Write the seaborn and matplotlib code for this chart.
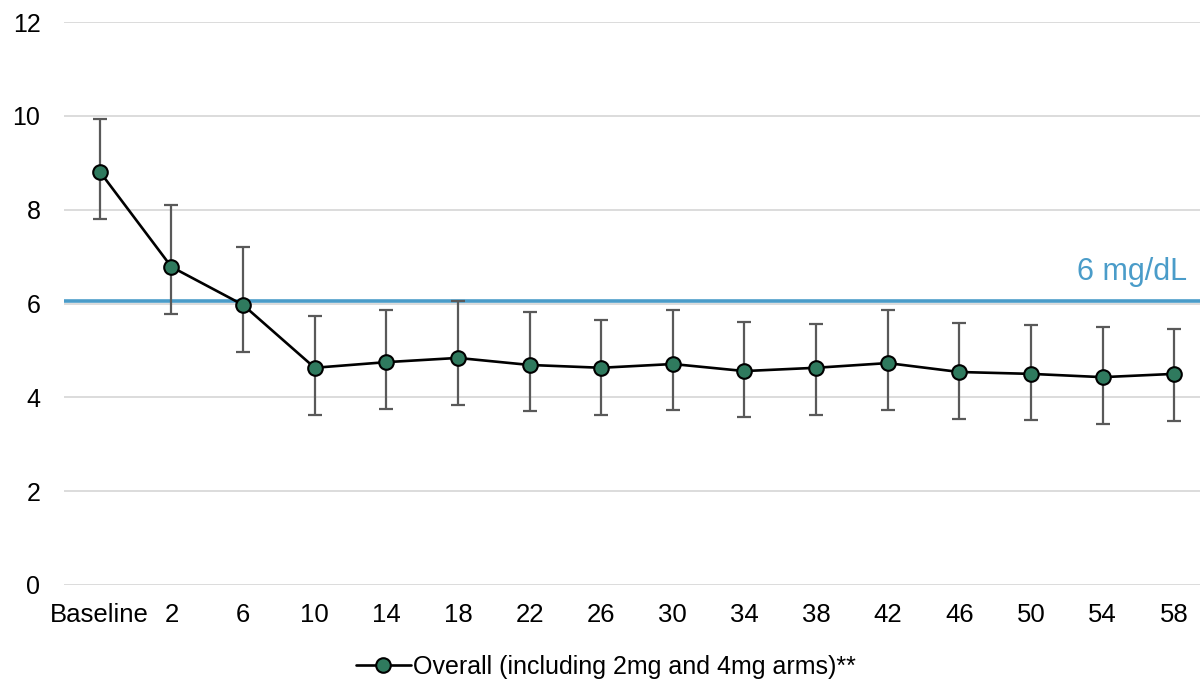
import numpy as np
import pandas as pd
import matplotlib
matplotlib.use("Agg")
import matplotlib.pyplot as plt
import seaborn as sns

categories = ["Baseline", "2", "6", "10", "14", "18", "22", "26", "30", "34",
              "38", "42", "46", "50", "54", "58"]
mean_vals = [8.81, 6.78, 5.97, 4.63, 4.75, 4.84, 4.69, 4.63, 4.71, 4.56,
             4.63, 4.73, 4.54, 4.50, 4.43, 4.50]
upper_vals = [9.94, 8.10, 7.21, 5.74, 5.86, 6.06, 5.82, 5.65, 5.86, 5.61,
              5.57, 5.86, 5.59, 5.54, 5.50, 5.46]
lower_vals = [7.80, 5.78, 4.97, 3.62, 3.75, 3.84, 3.71, 3.62, 3.73, 3.58,
              3.62, 3.73, 3.54, 3.52, 3.43, 3.50]
threshold = 6.05
threshold_label = "6 mg/dL"
series_label = "Overall (including 2mg and 4mg arms)**"
y_ticks = [0, 2, 4, 6, 8, 10, 12]

sns.set_theme(style="white")
plt.rcParams["font.family"] = ["Liberation Sans", "DejaVu Sans"]
plt.rcParams["text.color"] = "black"

df = pd.DataFrame({"week": categories, "mean": mean_vals})

fig = plt.figure(figsize=(12, 6.85), dpi=100)
ax = fig.add_axes([64 / 1200, 100 / 685, 1146 / 1200, 563 / 685])

for y in y_ticks:
    ax.axhline(y, color="#d9d9d9", lw=1.3, zorder=0)

ax.axhline(threshold, color="#4a9cc9", lw=2.6, zorder=1)

x = np.arange(len(categories))
mean = np.array(mean_vals)
yerr = np.vstack([mean - np.array(lower_vals), np.array(upper_vals) - mean])
ax.errorbar(x, mean, yerr=yerr, fmt="none", ecolor="#595959", elinewidth=1.6,
            capsize=4.8, capthick=1.6, zorder=2)

sns.lineplot(data=df, x="week", y="mean", sort=False, ax=ax, color="black",
             lw=1.9, marker="o", markersize=10.5, markerfacecolor="#2f7a5e",
             markeredgecolor="black", markeredgewidth=1.5, label=series_label,
             zorder=3)

ax.set_xlim(-0.5, len(categories) - 0.5)
ax.set_ylim(0, 12)
ax.set_yticks(y_ticks)
ax.set_xticks(x)
ax.set_xticklabels(categories)
ax.set_xlabel("")
ax.set_ylabel("")
for s in ax.spines.values():
    s.set_visible(False)
ax.tick_params(axis="y", length=0, pad=17, labelsize=18, labelcolor="black")
ax.tick_params(axis="x", length=0, pad=13, labelsize=18.5, labelcolor="black")

ax.text(1187 / 1200, (685 - 272) / 685, threshold_label, transform=fig.transFigure,
        ha="right", va="center", fontsize=22, color="#4a9cc9")

leg = ax.legend(loc="center", bbox_to_anchor=(606 / 1200, (685 - 667) / 685),
                bbox_transform=fig.transFigure, frameon=False, fontsize=18,
                handlelength=2.2, handletextpad=0.1)
for t in leg.get_texts():
    t.set_color("black")

fig.savefig("out.png", dpi=100)
